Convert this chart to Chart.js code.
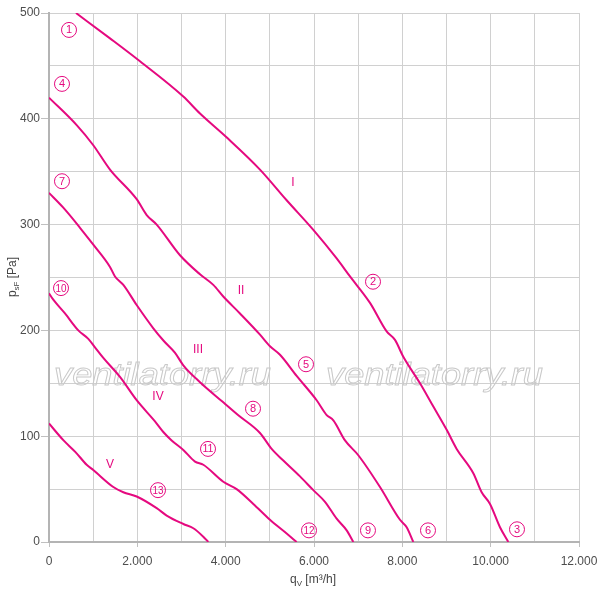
<!DOCTYPE html>
<html>
<head>
<meta charset="utf-8">
<script src="https://cdn.jsdelivr.net/npm/chart.js@4.4.0/dist/chart.umd.min.js"></script>
<style>
  html, body { margin: 0; padding: 0; background: #fff; }
  #wrap { width: 600px; height: 590px; }
</style>
</head>
<body>
<div id="wrap"><canvas id="fanChart" width="600" height="590"></canvas></div>
<script>
// fan curves, airflow q [m3/h] vs static pressure p [Pa]
const qI = [611, 1381, 2008, 3041, 3419, 4007, 4777, 5381, 5985, 6513, 6815, 7268, 7645, 7834, 8022, 8400, 8702, 9004, 9230, 9607, 9796, 9985, 10211, 10400];
const pI = [500, 476, 456, 421, 405, 383, 352, 323, 295, 268, 251, 226, 199, 191, 175, 150, 128, 106, 88, 65, 47, 36, 14, 0];

const qII = [0, 627, 1003, 1381, 1985, 2212, 2438, 2966, 3419, 3720, 3946, 4324, 4777, 5003, 5230, 5607, 6060, 6287, 6438, 6702, 7003, 7494, 7947, 8098, 8249];
const pII = [420, 394, 375, 352, 324, 309, 300, 271, 253, 243, 232, 216, 196, 185, 177, 157, 134, 120, 115, 96, 82, 52, 21, 14, 0];

const qIII = [0, 324, 702, 1003, 1381, 1494, 1683, 1985, 2362, 2600, 2850, 3041, 3419, 3946, 4280, 4777, 5041, 5305, 5683, 5985, 6249, 6513, 6740, 6891];
const pIII = [330, 316, 297, 281, 260, 251, 243, 224, 202, 190, 179, 167, 151, 132, 120, 103, 88, 77, 62, 49, 38, 22, 11, 0];

const qIV = [0, 97, 362, 664, 890, 1041, 1230, 1607, 1985, 2400, 2588, 2777, 3041, 3306, 3494, 3946, 4248, 4626, 5003, 5381, 5607];
const pIV = [235, 229, 216, 200, 192, 184, 174, 156, 134, 114, 104, 96, 87, 76, 73, 57, 50, 36, 21, 8, 0];

const qV = [0, 330, 600, 853, 1003, 1456, 1683, 1985, 2438, 2664, 3041, 3268, 3494, 3607];
const pV = [112, 96, 85, 73, 68, 52, 47, 43, 32, 25, 17, 13, 5, 0];

// marker labels on the curves (circled numbers) and speed steps (roman numerals)
const markerText = ['1', '2', '3', '4', '5', '6', '7', '8', '9', '10', '11', '12', '13'];
const markerQ = [453, 7336, 10596, 294, 5819, 8581, 294, 4619, 7222, 272, 3600, 5887, 2468];
const markerP = [484, 246, 12, 433, 168, 11, 341, 126, 11, 240, 88, 11, 49];

const stepText = ['I', 'II', 'III', 'IV', 'V'];
const stepQ = [5524, 4347, 3374, 2468, 1381];
const stepP = [340, 238, 182, 137, 73];

const xMax = 12000, xStep = 1000;
const yMax = 500, yStep = 50;

const MAGENTA = '#e5097f';
const FONT = '"Liberation Sans", Arial, sans-serif';

function toPoints(qs, ps) {
  return qs.map((q, i) => ({ x: q, y: ps[i] }));
}

function fmtThousands(v) {
  if (v === 0) return '0';
  return (v / 1000).toFixed(3);
}

const overlayPlugin = {
  id: 'overlay',
  beforeDatasetsDraw(chart) {
    const ctx = chart.ctx;
    ctx.save();
    ctx.font = 'italic 31px ' + FONT;
    ctx.strokeStyle = '#c9c9c9';
    ctx.lineWidth = 0.9;
    ctx.textBaseline = 'alphabetic';
    [54, 326].forEach(x0 => {
      ctx.save();
      ctx.translate(x0, 385);
      ctx.scale(1.17, 1);
      ctx.strokeText('ventilatorry.ru', 0, 0);
      ctx.restore();
    });
    ctx.restore();
  },
  afterDraw(chart) {
    const ctx = chart.ctx;
    const xs = chart.scales.x, ys = chart.scales.y;
    ctx.save();
    ctx.fillStyle = MAGENTA;
    ctx.strokeStyle = MAGENTA;
    ctx.lineWidth = 1;
    ctx.textAlign = 'center';
    ctx.textBaseline = 'middle';

    markerText.forEach((t, i) => {
      const px = xs.getPixelForValue(markerQ[i]);
      const py = ys.getPixelForValue(markerP[i]);
      ctx.beginPath();
      ctx.arc(px, py, 7.5, 0, Math.PI * 2);
      ctx.stroke();
      ctx.font = '11px ' + FONT;
      ctx.fillText(t, px, py + 0.5, 11);
    });

    ctx.font = '12px ' + FONT;
    stepText.forEach((t, i) => {
      ctx.fillText(t, xs.getPixelForValue(stepQ[i]), ys.getPixelForValue(stepP[i]));
    });

    // axis titles with subscripts
    ctx.fillStyle = '#444';
    ctx.textBaseline = 'alphabetic';
    ctx.textAlign = 'left';

    // x title: q_V [m³/h]
    const xt = [['q', 12, 0], ['V', 8, 3], [' [m³/h]', 12, 0]];
    drawRich(ctx, xt, 313, 583);

    // y title: p_sF [Pa], rotated
    ctx.save();
    ctx.translate(16, 277);
    ctx.rotate(-Math.PI / 2);
    const yt = [['p', 12, 0], ['sF', 8, 3], [' [Pa]', 12, 0]];
    drawRich(ctx, yt, 0, 0);
    ctx.restore();

    ctx.restore();
  }
};

function drawRich(ctx, parts, cx, baseY) {
  let total = 0;
  parts.forEach(p => {
    ctx.font = p[1] + 'px ' + FONT;
    total += ctx.measureText(p[0]).width;
  });
  let x = cx - total / 2;
  parts.forEach(p => {
    ctx.font = p[1] + 'px ' + FONT;
    ctx.fillText(p[0], x, baseY + p[2]);
    x += ctx.measureText(p[0]).width;
  });
}

const lineStyle = {
  borderColor: MAGENTA,
  borderWidth: 2,
  pointRadius: 0,
  fill: false,
  cubicInterpolationMode: 'monotone'
};

new Chart(document.getElementById('fanChart'), {
  type: 'line',
  data: {
    datasets: [
      Object.assign({ label: 'I', data: toPoints(qI, pI) }, lineStyle),
      Object.assign({ label: 'II', data: toPoints(qII, pII) }, lineStyle),
      Object.assign({ label: 'III', data: toPoints(qIII, pIII) }, lineStyle),
      Object.assign({ label: 'IV', data: toPoints(qIV, pIV) }, lineStyle),
      Object.assign({ label: 'V', data: toPoints(qV, pV) }, lineStyle)
    ]
  },
  options: {
    responsive: false,
    animation: false,
    layout: { padding: { top: 13, right: 21, left: 0, bottom: 0 } },
    plugins: {
      legend: { display: false },
      tooltip: { enabled: false }
    },
    scales: {
      x: {
        type: 'linear',
        min: 0,
        max: xMax,
        afterFit: (scale) => {
          scale.height = 48;
          scale.paddingLeft = 0;
          scale.paddingRight = 0;
        },
        border: { color: '#b4b4b4', width: 2 },
        grid: {
          color: '#d0d0d0',
          lineWidth: 1,
          tickLength: 5,
          tickColor: (c) => (c.tick && c.tick.value % 2000 === 0 ? '#c0c0c0' : 'rgba(0,0,0,0)')
        },
        ticks: {
          stepSize: xStep,
          autoSkip: false,
          maxRotation: 0,
          padding: 7,
          color: '#4d4d4d',
          font: { family: FONT, size: 12 },
          callback: (v) => (v % 2000 === 0 ? fmtThousands(v) : '')
        }
      },
      y: {
        type: 'linear',
        min: 0,
        max: yMax,
        afterFit: (scale) => { scale.width = 49; },
        border: { color: '#b4b4b4', width: 2 },
        grid: {
          color: '#d0d0d0',
          lineWidth: 1,
          tickLength: 8,
          tickColor: (c) => (c.tick && c.tick.value % 100 === 0 ? '#c0c0c0' : 'rgba(0,0,0,0)')
        },
        ticks: {
          stepSize: yStep,
          autoSkip: false,
          padding: 1,
          color: '#4d4d4d',
          font: { family: FONT, size: 12 },
          callback: (v) => (v % 100 === 0 ? String(v) : '')
        }
      }
    }
  },
  plugins: [overlayPlugin]
});
</script>
</body>
</html>
